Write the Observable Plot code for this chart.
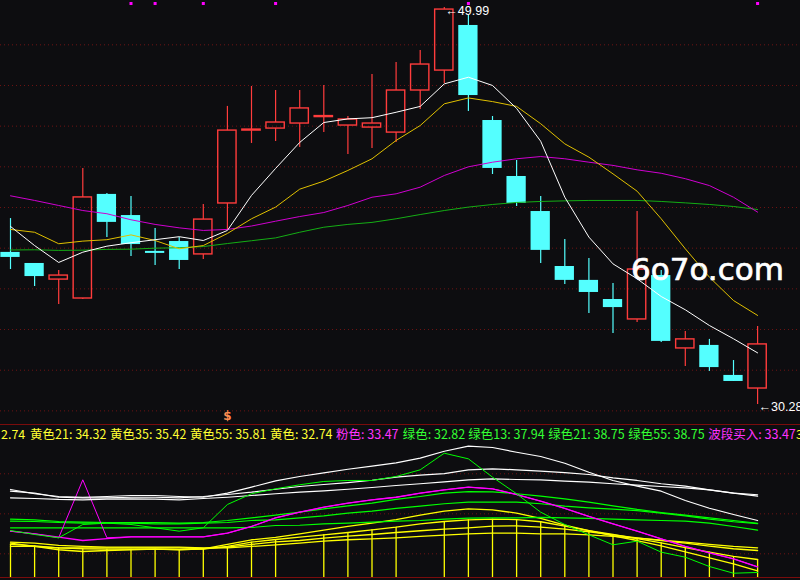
<!DOCTYPE html>
<html>
<head>
<meta charset="utf-8">
<script src="https://cdn.jsdelivr.net/npm/d3@7"></script>
<script src="https://cdn.jsdelivr.net/npm/@observablehq/plot@0.6"></script>
<style>
  body { margin: 0; background: #0d0d10; }
  #wrap { position: relative; width: 800px; height: 580px; overflow: hidden; background: #0d0d10; }
  #main, #sub { position: absolute; left: 0; }
  #main { top: 0; }
  #sub { top: 425px; }
  .sep { position: absolute; left: 0; width: 800px; height: 1px; background: #7a0c0c; }
  #labels { position: absolute; left: 0; top: 426px; width: 800px; height: 16px;
    font: 12.5px/16px "Noto Sans CJK SC", sans-serif; white-space: nowrap; }
  #labels span { position: absolute; top: 0; }
  #wm { position: absolute; left: 631px; top: 254px; color: #fff; line-height: 1;
    font: 31px/1 "DejaVu Sans", sans-serif; -webkit-text-stroke: 0.7px #fff; }
</style>
</head>
<body>
<div id="wrap">
  <div id="main"></div>
  <div class="sep" style="top:424px"></div>
  <div id="labels"></div>
  <div id="sub"></div>
  <div class="sep" style="top:577px"></div>
  <div id="wm">6o7o.com</div>
</div>
<script>
// daily candles
const opens  = [37.83, 37.28, 36.48, 35.54, 40.71, 39.66, 37.88, 38.37, 37.73, 40.26, 43.88, 43.98, 44.23, 44.55, 44.13, 44.03,
                43.78, 45.87, 46.86, 49.10, 44.38, 41.60, 39.86, 37.13, 36.44, 35.49, 34.50, 36.68, 33.06, 33.21, 31.72, 31.07];
const closes = [37.58, 36.63, 36.68, 40.56, 39.32, 38.22, 37.78, 37.43, 39.46, 43.88, 43.93, 44.28, 44.98, 44.60, 44.43, 44.23,
                45.87, 47.16, 49.89, 45.62, 42.00, 40.26, 37.93, 36.44, 35.84, 35.09, 36.98, 33.41, 33.51, 32.11, 31.42, 33.26];
const highs  = [39.51, 37.28, 36.93, 42.00, 40.76, 40.61, 39.02, 38.57, 40.21, 45.08, 46.07, 45.87, 45.87, 46.12, 44.58, 46.67,
                47.26, 47.86, 49.99, 49.60, 44.58, 42.39, 40.61, 38.47, 37.53, 36.29, 39.86, 36.93, 33.90, 33.51, 32.46, 34.15];
const lows   = [36.98, 36.14, 35.24, 35.49, 38.57, 37.63, 37.18, 36.98, 37.48, 38.97, 43.24, 43.34, 43.04, 43.78, 42.69, 42.99,
                43.29, 44.93, 46.22, 44.83, 41.70, 40.11, 37.28, 36.24, 34.80, 33.80, 34.35, 33.36, 32.16, 31.92, 31.42, 30.28];

// moving averages on the price panel
const maWhite   = [39.12, 38.17, 37.33, 37.84, 38.14, 38.31, 38.46, 38.61, 38.42, 38.92, 40.66, 42.00, 43.29, 44.28, 44.46, 44.52,
                   44.79, 45.08, 46.20, 46.53, 46.12, 44.98, 43.35, 40.57, 38.59, 37.26, 36.52, 35.64, 34.98, 34.20, 33.54, 32.84];
const maYellow  = [38.97, 38.83, 38.26, 38.39, 38.46, 38.70, 38.42, 38.01, 38.17, 38.77, 39.50, 40.08, 40.97, 41.37, 41.90, 42.48,
                   43.39, 44.13, 45.21, 45.50, 45.32, 45.08, 44.22, 43.22, 42.56, 41.73, 40.87, 39.50, 38.01, 36.60, 35.44, 34.70];
const maMagenta = [40.64, 40.41, 40.16, 39.91, 39.75, 39.45, 39.22, 39.05, 38.92, 38.97, 39.14, 39.38, 39.61, 39.81, 40.16, 40.57,
                   40.74, 41.07, 41.65, 42.08, 42.31, 42.48, 42.59, 42.48, 42.31, 42.15, 41.93, 41.76, 41.49, 41.15, 40.57, 39.83];
const maGreen   = [37.95, 37.96, 37.93, 37.94, 37.98, 37.99, 38.04, 38.06, 38.12, 38.27, 38.41, 38.55, 38.83, 39.08, 39.22, 39.32,
                   39.50, 39.71, 39.91, 40.08, 40.21, 40.31, 40.36, 40.39, 40.41, 40.41, 40.41, 40.36, 40.29, 40.21, 40.11, 39.96];

// indicator panel
const white1 = [42.87, 42.35, 42.02, 41.93, 42.02, 42.14, 42.14, 42.02, 41.93, 42.42, 43.15, 43.92, 44.44, 44.89, 45.32, 45.69,
                46.10, 46.66, 47.50, 48.11, 47.95, 47.38, 46.86, 46.05, 44.96, 43.96, 43.27, 42.66, 41.53, 40.60, 39.84, 39.11];
const white2 = [42.66, 42.42, 41.93, 41.86, 41.86, 41.93, 41.93, 41.86, 42.02, 42.26, 42.54, 42.90, 43.23, 43.47, 43.71, 43.99,
                44.36, 44.60, 44.80, 45.25, 45.37, 45.25, 45.08, 44.92, 44.68, 44.28, 43.96, 43.56, 43.27, 42.83, 42.42, 42.23];
const white3 = [41.86, 41.78, 41.66, 41.62, 41.69, 41.74, 41.69, 41.62, 41.78, 41.93, 42.14, 42.35, 42.54, 42.71, 42.90, 43.11,
                43.35, 43.56, 43.80, 44.04, 44.16, 44.08, 44.04, 43.87, 43.75, 43.56, 43.39, 43.23, 43.07, 42.83, 42.42, 42.06];
const green0  = [37.90, 37.42, 37.02, 38.63, 38.79, 38.63, 38.23, 37.82, 38.23, 41.05, 42.35, 42.95, 43.44, 43.84, 43.96, 43.96,
                 44.44, 45.25, 47.26, 46.58, 44.36, 42.35, 40.12, 38.63, 37.38, 36.17, 36.61, 35.28, 34.67, 33.54, 32.73, 32.82];
const green13 = [38.23, 38.23, 38.23, 38.23, 38.23, 38.23, 38.23, 38.23, 38.23, 38.23, 38.27, 38.51, 38.54, 38.71, 38.79, 38.91,
                 39.03, 39.11, 39.27, 39.39, 39.44, 39.44, 39.48, 39.44, 39.36, 39.27, 39.20, 39.11, 39.03, 38.79, 38.39, 37.94];
const green21 = [39.27, 39.20, 38.99, 38.91, 38.87, 38.87, 38.87, 38.79, 38.87, 39.11, 39.44, 39.76, 40.12, 40.53, 40.89, 41.21,
                 41.66, 42.02, 42.42, 42.62, 42.59, 42.35, 42.06, 41.74, 41.33, 40.89, 40.45, 40.08, 39.76, 39.44, 39.11, 38.78];
const green55 = [39.03, 38.99, 38.87, 38.79, 38.79, 38.79, 38.71, 38.71, 38.79, 38.87, 39.11, 39.20, 39.44, 39.68, 40.00, 40.24,
                 40.57, 40.85, 41.14, 41.33, 41.33, 41.33, 41.14, 40.85, 40.65, 40.48, 40.32, 40.00, 39.68, 39.27, 38.96, 38.73];
const pink    = [37.82, 37.50, 37.09, 36.69, 36.93, 37.14, 37.14, 37.14, 37.14, 37.58, 38.39, 39.44, 40.12, 40.72, 41.21, 41.62,
                 41.93, 42.42, 42.83, 43.15, 42.95, 42.26, 41.45, 40.57, 39.60, 38.71, 37.82, 36.90, 35.97, 35.20, 34.48, 33.50];
const buyBand = [37.82, 37.50, 37.02, 44.04, 37.02, 37.14, 37.14, 37.14, 37.14, 37.58, 38.39, 39.44, 40.12, 40.72, 41.21, 41.62,
                 41.93, 42.42, 42.83, 43.15, 42.95, 42.26, 41.45, 40.57, 39.60, 38.71, 37.82, 36.90, 35.97, 35.20, 34.48, 33.50];
const yellow0  = [36.37, 35.97, 35.57, 35.36, 35.48, 35.57, 35.64, 35.57, 35.69, 36.21, 36.78, 37.06, 37.50, 37.94, 38.39, 38.79,
                  39.23, 39.76, 40.24, 40.53, 40.41, 40.00, 39.36, 38.54, 37.90, 37.26, 36.69, 36.05, 35.32, 34.60, 33.87, 33.00];
const yellow21 = [36.21, 36.05, 35.81, 35.69, 35.64, 35.64, 35.64, 35.60, 35.64, 35.97, 36.49, 36.81, 37.09, 37.38, 37.66, 37.99,
                  38.30, 38.71, 38.99, 39.20, 39.27, 39.23, 38.96, 38.42, 37.90, 37.42, 36.93, 36.41, 35.84, 35.28, 34.76, 34.39];
const yellow35 = [35.97, 35.97, 35.81, 35.81, 35.81, 35.81, 35.81, 35.81, 35.72, 35.88, 36.21, 36.53, 36.69, 36.97, 37.21, 37.42,
                  37.66, 37.87, 38.06, 38.23, 38.42, 38.47, 38.30, 38.06, 37.75, 37.38, 37.02, 36.69, 36.37, 36.00, 35.69, 35.48];
const yellow55 = [36.49, 36.37, 36.09, 35.97, 35.88, 35.88, 35.88, 35.88, 35.81, 35.81, 35.97, 36.17, 36.37, 36.61, 36.78, 36.90,
                  37.02, 37.18, 37.33, 37.50, 37.58, 37.58, 37.50, 37.50, 37.38, 37.18, 36.97, 36.73, 36.49, 36.21, 35.97, 35.81];
const stickDays = [0, 1, 2, 3, 4, 5, 6, 7, 8, 9, 10, 11, 13, 14, 15, 16, 18, 19, 20, 21, 22, 23, 24, 25, 26, 27, 28, 29, 30, 31];
const signalDays = [5, 6, 8, 11, 19, 31];
const sDays = [9];

const mainGrid = [48.14, 46.12, 44.10, 42.08, 40.06, 38.04, 36.02, 34.00, 31.98, 29.96];
const subGrid = [44.77, 39.92, 35.08];

const legendHead = "2.74";
const legendNames = ["黄色21", "黄色35", "黄色55", "黄色", "粉色", "绿色", "绿色13", "绿色21", "绿色55", "波段买入"];
const legendValues = [34.32, 35.42, 35.81, 32.74, 33.47, 32.82, 37.94, 38.75, 38.75, 33.47];
const legendTail = "3";

const red = "#ff3c3c", cyan = "#54ffff";
const xDom = [-0.415, 32.78];

const candles = opens.map((o, i) => ({i, o, c: closes[i], h: highs[i], l: lows[i]}));
const up = candles.filter(d => d.c >= d.o);
const down = candles.filter(d => d.c < d.o);
const hiDay = d3.maxIndex(highs), loDay = d3.minIndex(lows);

const ma = (arr, stroke, w = 1) => Plot.line(arr, {x: (d, i) => i, y: d => d, stroke, strokeWidth: w});

const main = Plot.plot({
  width: 800, height: 425,
  marginTop: 0, marginBottom: 10, marginLeft: 0, marginRight: 0,
  x: {domain: xDom, axis: null},
  y: {domain: [29.73, 50.34], axis: null},
  style: {background: "transparent", overflow: "visible"},
  marks: [
    Plot.ruleY(mainGrid, {stroke: "#6e1414", strokeDasharray: "1,3"}),
    Plot.ruleX(up, {x: "i", y1: "h", y2: d => Math.max(d.o, d.c), stroke: red, strokeWidth: 1.2}),
    Plot.ruleX(up, {x: "i", y1: "l", y2: d => Math.min(d.o, d.c), stroke: red, strokeWidth: 1.2}),
    Plot.ruleX(down, {x: "i", y1: "l", y2: "h", stroke: cyan, strokeWidth: 1.2}),
    Plot.rect(down, {x1: d => d.i - 0.4, x2: d => d.i + 0.4, y1: "o", y2: "c", fill: cyan}),
    Plot.rect(up, {x1: d => d.i - 0.38, x2: d => d.i + 0.38, y1: "o", y2: "c", fill: "none", stroke: red, strokeWidth: 1.4}),
    ma(maGreen, "#14ad14"),
    ma(maMagenta, "#d000d0"),
    ma(maYellow, "#e0c000"),
    ma(maWhite, "#ffffff"),
    Plot.dot(signalDays, {x: d => d, frameAnchor: "top", dy: 3, symbol: "square", r: 1.7, fill: "#ff00ff"}),
    Plot.text(sDays, {x: d => d, frameAnchor: "bottom", dy: 4, text: () => "$", fill: "#ff8c50",
      fontSize: 12, fontWeight: "bold", fontFamily: "DejaVu Sans"}),
    Plot.text([hiDay], {x: d => d, y: d => highs[d], text: d => "←" + highs[d].toFixed(2), textAnchor: "start",
      dx: 1, dy: 3, fill: "#fff", fontSize: 12.5, fontFamily: "Liberation Sans"}),
    Plot.text([loDay], {x: d => d, y: d => lows[d], text: d => "←" + lows[d].toFixed(2), textAnchor: "start",
      dx: 1, dy: 3, fill: "#fff", fontSize: 12.5, fontFamily: "Liberation Sans"})
  ]
});
document.getElementById("main").append(main);

const subMin = 32.09;
const sub = Plot.plot({
  width: 800, height: 155,
  marginTop: 15, marginBottom: 2, marginLeft: 0, marginRight: 0,
  x: {domain: xDom, axis: null},
  y: {domain: [subMin, 48.80], axis: null},
  style: {background: "transparent", overflow: "visible"},
  marks: [
    Plot.ruleY(subGrid, {stroke: "#6e1414", strokeDasharray: "1,3"}),
    Plot.ruleX(stickDays, {x: d => d, y1: subMin, y2: d => yellow21[d], stroke: "#ffff00", strokeWidth: 1.3}),
    ma(yellow55, "#ffff00", 1.3),
    ma(yellow35, "#ffff00", 1.3),
    ma(yellow21, "#ffff00", 1.3),
    ma(yellow0, "#ffff00", 1.3),
    ma(green13, "#00ff00", 1.2),
    ma(green55, "#00ff00", 1.2),
    ma(green21, "#00ff00", 1.2),
    ma(buyBand, "#ff00ff", 1),
    ma(pink, "#ff00ff", 1.3),
    ma(white3, "#ffffff", 1.2),
    ma(white2, "#ffffff", 1.2),
    ma(white1, "#ffffff", 1.2),
    ma(green0, "#00ff00", 1)
  ]
});
document.getElementById("sub").append(sub);

// value row between the panels
const legendX = [30, 110, 190, 270, 336, 402.7, 468.3, 548.3, 628.3, 708.3];
const colorOf = n => n.startsWith("黄") ? "#ffff33" : n.startsWith("绿") ? "#33ff33" : "#ff33ff";
const row = d3.select("#labels");
row.append("span").style("left", "1px").style("color", "#ffff33").text(legendHead);
legendNames.forEach((n, k) => {
  row.append("span").style("left", legendX[k] + "px").style("color", colorOf(n))
    .text(n + ": " + legendValues[k].toFixed(2));
});
row.append("span").style("left", "796px").style("color", "#ffff33").text(legendTail);
</script>
</body>
</html>
